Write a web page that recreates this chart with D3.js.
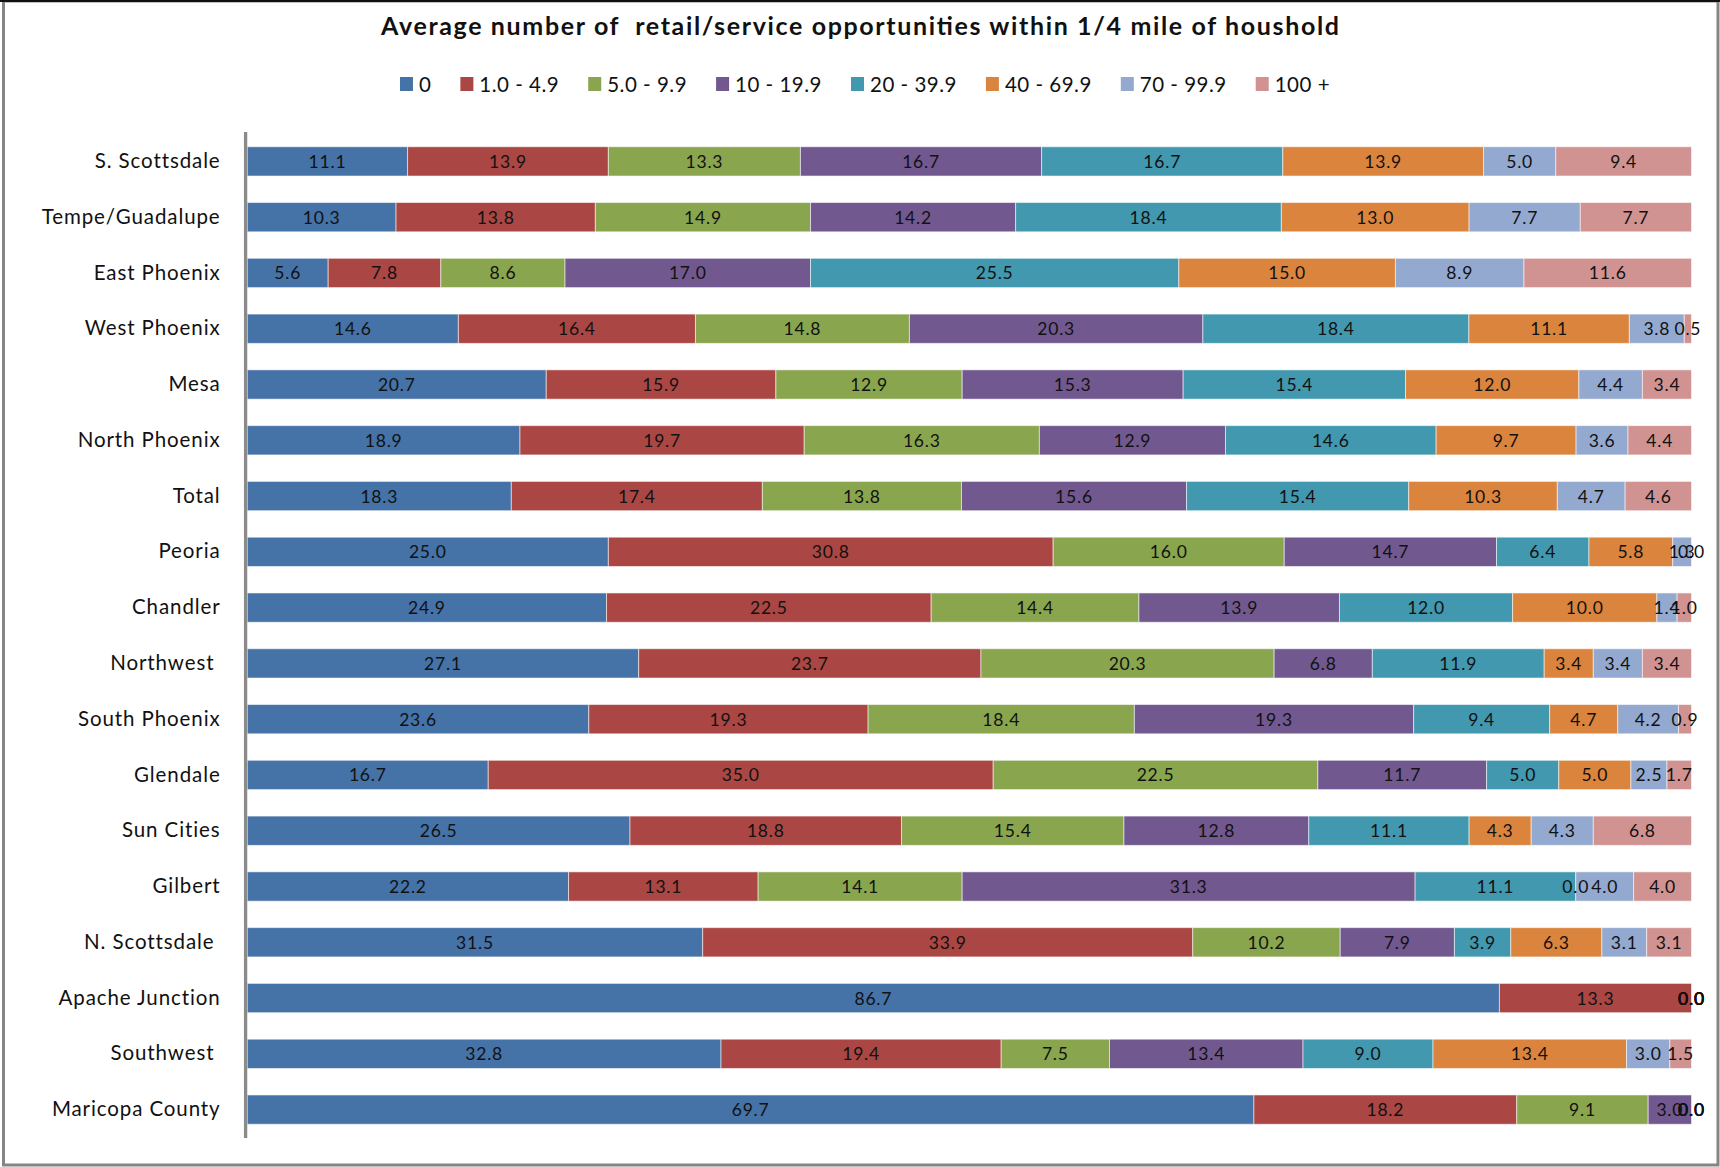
<!DOCTYPE html>
<html>
<head>
<meta charset="utf-8">
<script src="https://cdn.jsdelivr.net/npm/d3@7"></script>
<style>
  html, body { margin: 0; padding: 0; background: #fff; }
  svg { display: block; }
  text { font-family: Lato, "Open Sans", sans-serif; fill: #111; }
</style>
</head>
<body>
<svg id="chart" width="1720" height="1167"></svg>
<script>
// Areas, top to bottom (trailing spaces are part of the source labels)
const categories = [
  "S. Scottsdale", "Tempe/Guadalupe", "East Phoenix", "West Phoenix", "Mesa",
  "North Phoenix", "Total", "Peoria", "Chandler", "Northwest ", "South Phoenix",
  "Glendale", "Sun Cities", "Gilbert", "N. Scottsdale ", "Apache Junction",
  "Southwest ", "Maricopa County"
];

// Opportunity-count bands (series)
const seriesNames = ["0", "1.0 - 4.9", "5.0 - 9.9", "10 - 19.9", "20 - 39.9", "40 - 69.9", "70 - 99.9", "100 +"];
const seriesColors = ["#4572A7", "#AA4643", "#89A54E", "#71588F", "#4198AF", "#DB843D", "#93A9CF", "#D19392"];

// Percent of households in each band, one array per band, in category order
const band0     = [11.1, 10.3,  5.6, 14.6, 20.7, 18.9, 18.3, 25.0, 24.9, 27.1, 23.6, 16.7, 26.5, 22.2, 31.5, 86.7, 32.8, 69.7];
const band1to5  = [13.9, 13.8,  7.8, 16.4, 15.9, 19.7, 17.4, 30.8, 22.5, 23.7, 19.3, 35.0, 18.8, 13.1, 33.9, 13.3, 19.4, 18.2];
const band5to10 = [13.3, 14.9,  8.6, 14.8, 12.9, 16.3, 13.8, 16.0, 14.4, 20.3, 18.4, 22.5, 15.4, 14.1, 10.2,  0.0,  7.5,  9.1];
const band10to20 = [16.7, 14.2, 17.0, 20.3, 15.3, 12.9, 15.6, 14.7, 13.9,  6.8, 19.3, 11.7, 12.8, 31.3,  7.9,  0.0, 13.4,  3.0];
const band20to40 = [16.7, 18.4, 25.5, 18.4, 15.4, 14.6, 15.4,  6.4, 12.0, 11.9,  9.4,  5.0, 11.1, 11.1,  3.9,  0.0,  9.0,  0.0];
const band40to70 = [13.9, 13.0, 15.0, 11.1, 12.0,  9.7, 10.3,  5.8, 10.0,  3.4,  4.7,  5.0,  4.3,  0.0,  6.3,  0.0, 13.4,  0.0];
const band70to100 = [ 5.0,  7.7,  8.9,  3.8,  4.4,  3.6,  4.7,  1.3,  1.4,  3.4,  4.2,  2.5,  4.3,  4.0,  3.1,  0.0,  3.0,  0.0];
const band100plus = [ 9.4,  7.7, 11.6,  0.5,  3.4,  4.4,  4.6,  0.0,  1.0,  3.4,  0.9,  1.7,  6.8,  4.0,  3.1,  0.0,  1.5,  0.0];

const seriesValues = [band0, band1to5, band5to10, band10to20, band20to40, band40to70, band70to100, band100plus];

const titleText = "Average number of  retail/service opportunities within 1/4 mile of houshold";

// Build rows for d3.stack
const table = categories.map((c, i) => {
  const row = { category: c };
  seriesNames.forEach((s, j) => { row[s] = seriesValues[j][i]; });
  return row;
});

const svg = d3.select("#chart");
const W = 1720, H = 1167;

svg.append("rect").attr("width", W).attr("height", H).attr("fill", "#fff");

// Frame
svg.append("rect").attr("x", 3.5).attr("y", 1).attr("width", W - 5.5).attr("height", H - 3)
  .attr("fill", "none").attr("stroke", "#858585").attr("stroke-width", 3);
svg.append("line").attr("x1", 0).attr("x2", W).attr("y1", 1).attr("y2", 1)
  .attr("stroke", "#111").attr("stroke-width", 2);

// Scales
const x = d3.scaleLinear().domain([0, 1]).range([247.3, 1691.5]);
const y = d3.scaleBand().domain(categories).range([133.5, 1137.5])
  .paddingInner(0.475).paddingOuter(0.2375);
const color = d3.scaleOrdinal().domain(seriesNames).range(seriesColors);

const stacked = d3.stack().keys(seriesNames).offset(d3.stackOffsetExpand)(table);

// Bars
const layers = svg.append("g").selectAll("g").data(stacked).join("g")
  .attr("fill", d => color(d.key));

layers.selectAll("rect").data(d => d).join("rect")
  .attr("x", d => x(d[0]))
  .attr("y", d => y(d.data.category))
  .attr("width", d => Math.max(0, x(d[1]) - x(d[0])))
  .attr("height", y.bandwidth())
  .attr("stroke", "#fff")
  .attr("stroke-opacity", 0.55)
  .attr("stroke-width", 1);

// Value labels
const fmt = d3.format(".1f");
const labelG = svg.append("g");
stacked.forEach(layer => {
  labelG.selectAll(null).data(layer).join("text")
    .attr("x", d => (x(d[0]) + x(d[1])) / 2)
    .attr("y", d => y(d.data.category) + y.bandwidth() / 2)
    .attr("text-anchor", "middle")
    .attr("dominant-baseline", "central")
    .style("font-size", "17.5px")
    .style("letter-spacing", "0.8px")
    .text(d => fmt(d.data[layer.key]));
});

// Category axis
const yAxis = svg.append("g").attr("transform", "translate(245.6,0)")
  .call(d3.axisLeft(y).tickSize(0).tickPadding(25));
yAxis.select(".domain").attr("stroke", "#8a8a8a").attr("stroke-width", 3.3)
  .attr("d", "M0,132V1138");
yAxis.selectAll("text")
  .style("font-family", "Lato, 'Open Sans', sans-serif")
  .style("font-size", "20.5px")
  .style("letter-spacing", "0.9px")
  .style("white-space", "pre")
  .attr("fill", "#111");

// Title
svg.append("text")
  .attr("x", W / 2).attr("y", 35)
  .attr("text-anchor", "middle")
  .style("font-size", "25px")
  .style("font-weight", "bold")
  .style("white-space", "pre")
  .attr("textLength", 958)
  .attr("lengthAdjust", "spacing")
  .text(titleText);

// Legend
const legend = svg.append("g");
const items = legend.selectAll("g").data(seriesNames).join("g");
items.append("rect").attr("width", 13).attr("height", 14).attr("y", -7)
  .attr("fill", d => color(d));
items.append("text").attr("x", 19).attr("y", 0)
  .attr("dominant-baseline", "central")
  .style("font-size", "20.5px")
  .style("letter-spacing", "0.5px")
  .text(d => d);
let cursor = 0;
items.each(function () {
  const g = d3.select(this);
  g.attr("transform", `translate(${cursor},84)`);
  cursor += 19 + g.select("text").node().getComputedTextLength() + 29;
});
const legendWidth = cursor - 29;
legend.attr("transform", `translate(${865 - legendWidth / 2},0)`);
</script>
</body>
</html>
